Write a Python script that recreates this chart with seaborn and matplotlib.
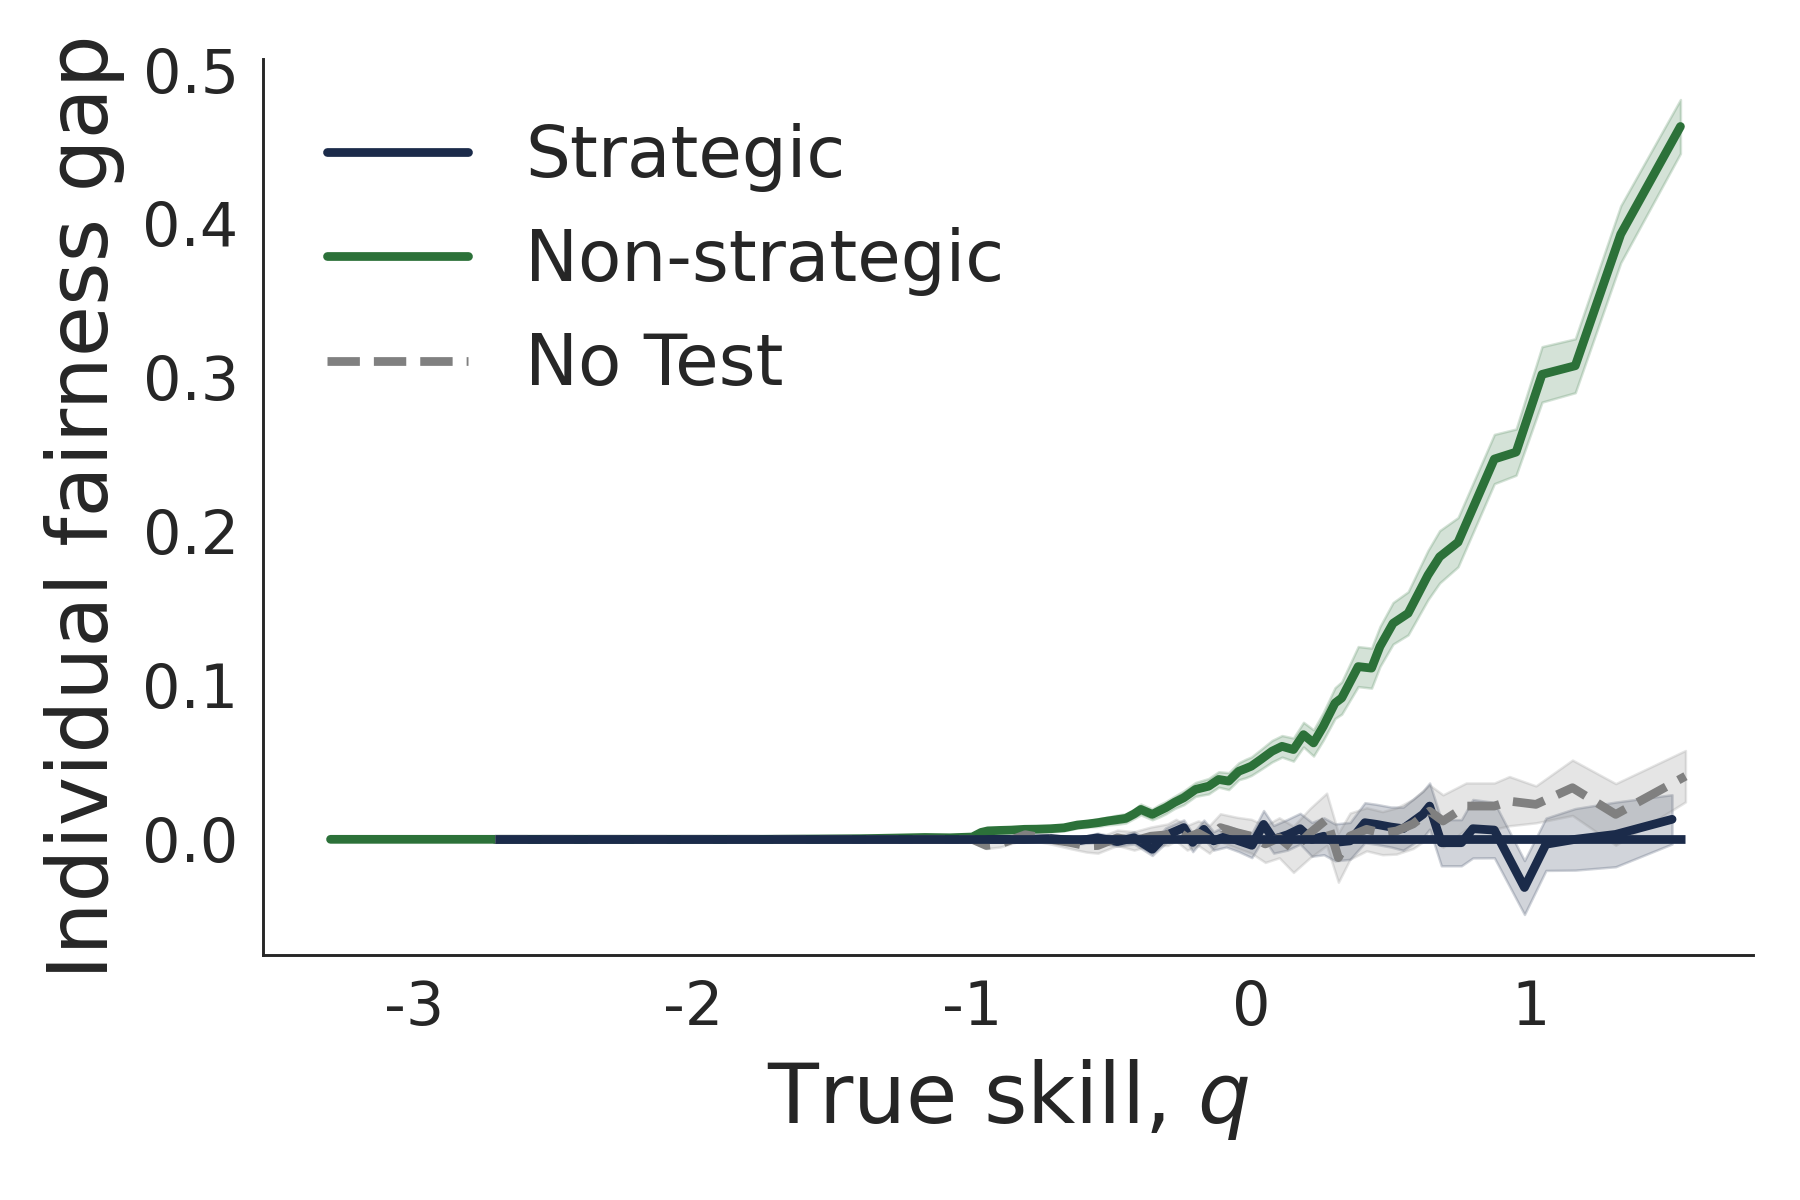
import matplotlib
matplotlib.use("Agg")
import matplotlib.pyplot as plt
import seaborn as sns
import numpy as np

# True skill q grid and fairness gap per policy
nonstrat_q = [-3.30, -2.71, -2.30, -2.00, -1.75, -1.55, -1.40, -1.28, -1.17, -1.08,
              -1.00, -0.968, -0.944, -0.90, -0.86, -0.813, -0.77, -0.718, -0.671, -0.623,
              -0.585, -0.551, -0.515, -0.48, -0.45, -0.42, -0.396, -0.355, -0.33, -0.307,
              -0.275, -0.242, -0.2, -0.153, -0.117, -0.081, -0.045, -0.02, 0.0, 0.035,
              0.074, 0.110, 0.151, 0.187, 0.223, 0.258, 0.300, 0.324, 0.383, 0.431,
              0.461, 0.508, 0.562, 0.633, 0.675, 0.741, 0.871, 0.949, 1.042, 1.161,
              1.324, 1.538]
nonstrat_gap = [0, 0, 0, 0, 0, 0.0002, 0.0004, 0.0008, 0.0012, 0.0010,
                0.0015, 0.0045, 0.0055, 0.0058, 0.006, 0.0065, 0.0066, 0.0069, 0.0075, 0.0093,
                0.0100, 0.0108, 0.0119, 0.0128, 0.0136, 0.0165, 0.0194, 0.0162, 0.0185, 0.0205,
                0.024, 0.027, 0.0324, 0.0345, 0.0389, 0.0378, 0.0442, 0.046, 0.0475, 0.052,
                0.0572, 0.0604, 0.0583, 0.068, 0.0626, 0.0734, 0.0885, 0.0918, 0.1122, 0.1112,
                0.1252, 0.1403, 0.1468, 0.1716, 0.1835, 0.193, 0.247, 0.2515, 0.302, 0.3076,
                0.393, 0.463]
nonstrat_err = [0, 0, 0, 0, 0, 0, 0, 0.0005, 0.0005, 0.0005,
                0.001, 0.001, 0.001, 0.0015, 0.0015, 0.0015, 0.0015, 0.002, 0.002, 0.002,
                0.002, 0.0025, 0.0025, 0.003, 0.003, 0.003, 0.0035, 0.0035, 0.004, 0.004,
                0.004, 0.0045, 0.0045, 0.005, 0.005, 0.0055, 0.0055, 0.006, 0.006, 0.0065,
                0.007, 0.007, 0.0075, 0.008, 0.0085, 0.009, 0.01, 0.0105, 0.013, 0.013,
                0.013, 0.0135, 0.014, 0.016, 0.017, 0.016, 0.016, 0.015, 0.018, 0.0175,
                0.0185, 0.0175]

strat_q = [-2.71, -2.30, -2.00, -1.75, -1.55, -1.40, -1.28, -1.17, -1.08, -1.00,
           -0.90, -0.813, -0.718, -0.623, -0.551, -0.48, -0.42, -0.355, -0.307, -0.242,
           -0.21, -0.170, -0.135, -0.09, -0.045, 0.002, 0.044, 0.080, 0.13, 0.175,
           0.217, 0.26, 0.30, 0.354, 0.407, 0.449, 0.50, 0.544, 0.615, 0.639,
           0.681, 0.753, 0.794, 0.871, 0.979, 1.056, 1.161, 1.306, 1.508]
strat_gap = [0, 0, 0, 0, 0, 0, 0, 0, 0, 0,
             0, 0, 0.0005, -0.001, 0.001, -0.0015, 0.001, -0.0065, 0.0025, 0.0076,
             -0.002, 0.0065, -0.001, 0.002, -0.001, -0.0039, 0.0097, 0.0, 0.003, 0.0069,
             0.0, 0.002, -0.002, -0.001, 0.0108, 0.0097, 0.008, 0.0069, 0.0162, 0.0216,
             -0.0022, -0.0022, 0.0069, 0.006, -0.0313, -0.0032, 0.0, 0.0032, 0.013]
strat_err = [0, 0, 0, 0, 0, 0, 0, 0, 0, 0,
             0.001, 0.001, 0.002, 0.002, 0.003, 0.003, 0.004, 0.004, 0.005, 0.005,
             0.006, 0.006, 0.006, 0.007, 0.007, 0.008, 0.009, 0.009, 0.010, 0.010,
             0.011, 0.012, 0.012, 0.012, 0.013, 0.013, 0.013, 0.014, 0.015, 0.015,
             0.015, 0.015, 0.019, 0.018, 0.0175, 0.017, 0.020, 0.021, 0.016]

notest_q = [-2.71, -2.30, -2.00, -1.75, -1.55, -1.40, -1.28, -1.17, -1.08, -1.00,
            -0.95, -0.90, -0.81, -0.72, -0.65, -0.59, -0.55, -0.48, -0.42, -0.36,
            -0.30, -0.27, -0.23, -0.19, -0.15, -0.111, -0.051, 0.0, 0.05, 0.10,
            0.151, 0.21, 0.27, 0.312, 0.354, 0.413, 0.47, 0.52, 0.58, 0.639,
            0.687, 0.770, 0.871, 0.925, 1.02, 1.151, 1.306, 1.556]
notest_gap = [0, 0, 0, 0, 0, 0, 0, 0, 0, 0,
              -0.004, -0.003, 0.003, 0.0, -0.002, -0.0043, -0.004, 0.001, -0.001, 0.002,
              0.003, 0.006, 0.001, 0.004, 0.0, 0.0076, 0.0043, 0.002, -0.003, 0.001,
              -0.0065, 0.004, 0.013, -0.0119, 0.0021, 0.0065, 0.004, 0.0054, 0.01, 0.0183,
              0.0119, 0.0216, 0.0216, 0.0248, 0.0227, 0.0335, 0.0162, 0.041]
notest_err = [0, 0, 0, 0, 0, 0, 0, 0, 0, 0,
              0.002, 0.002, 0.003, 0.003, 0.004, 0.004, 0.005, 0.005, 0.006, 0.006,
              0.007, 0.007, 0.008, 0.008, 0.009, 0.009, 0.010, 0.011, 0.012, 0.013,
              0.015, 0.016, 0.017, 0.016, 0.015, 0.014, 0.014, 0.015, 0.016, 0.017,
              0.017, 0.015, 0.015, 0.016, 0.012, 0.018, 0.020, 0.0167]

baseline_q = [-2.71, 1.556]
baseline_gap = [0.0, 0.0]

NAVY = "#1b2b4a"
GREEN = "#2c7139"
GRAY = "#808080"

sns.set_style("white")
plt.rcParams["axes.unicode_minus"] = False
plt.rcParams["axes.linewidth"] = 0.7
plt.rcParams["axes.edgecolor"] = "#262626"

fig, ax = plt.subplots(figsize=(6, 4), dpi=300)
fig.subplots_adjust(left=0.146, right=0.974, bottom=0.204, top=0.951)

lw = 2.1


def band(q, gap, err, color):
    gap = np.asarray(gap)
    err = np.asarray(err)
    ax.fill_between(q, gap - err, gap + err, color=color, alpha=0.2, linewidth=0.6)


sns.lineplot(x=strat_q, y=strat_gap, color=NAVY, lw=lw, label="Strategic",
             solid_capstyle="round", ax=ax)
band(strat_q, strat_gap, strat_err, NAVY)

sns.lineplot(x=nonstrat_q, y=nonstrat_gap, color=GREEN, lw=lw, label="Non-strategic",
             solid_capstyle="round", ax=ax)
band(nonstrat_q, nonstrat_gap, nonstrat_err, GREEN)

sns.lineplot(x=notest_q, y=notest_gap, color=GRAY, lw=lw, linestyle="--",
             label="No Test", ax=ax)
band(notest_q, notest_gap, notest_err, GRAY)

ax.plot(baseline_q, baseline_gap, color=NAVY, lw=lw, solid_capstyle="butt")

sns.despine(ax=ax)
ax.set_xticks([-3, -2, -1, 0, 1])
ax.set_yticks([0.0, 0.1, 0.2, 0.3, 0.4, 0.5])
ax.tick_params(labelsize=14.5, colors="#262626", pad=2.3)
ax.set_xlabel("True skill, $q$", fontsize=20, color="#262626", labelpad=4.4)
ax.set_ylabel("Individual fairness gap", fontsize=20, color="#262626", labelpad=4.2)

ax.legend(loc="upper left", frameon=False, fontsize=17, labelspacing=0.5)

fig.savefig("out.png", dpi=300)
